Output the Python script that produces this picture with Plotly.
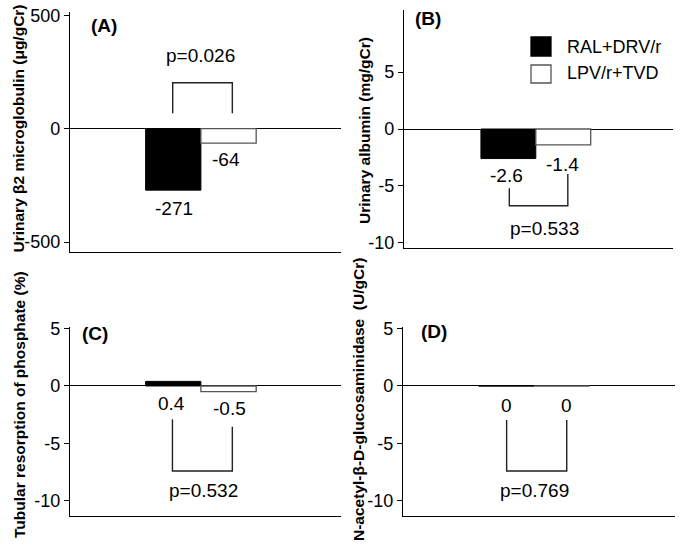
import plotly.graph_objects as go

# ---------------- data ----------------
groups = ["RAL+DRV/r", "LPV/r+TVD"]
panel_labels = ["(A)", "(B)", "(C)", "(D)"]
axis_titles = [
    "Urinary β2 microglobulin (μg/gCr)",
    "Urinary albumin (mg/gCr)",
    "Tubular resorption of phosphate (%)",
    "N-acetyl-β-D-glucosaminidase  (U/gCr)",
]
ral_values = [-271, -2.6, 0.4, 0]
lpv_values = [-64, -1.4, -0.5, 0]
value_labels_ral = ["-271", "-2.6", "0.4", "0"]
value_labels_lpv = ["-64", "-1.4", "-0.5", "0"]
p_values = ["p=0.026", "p=0.533", "p=0.532", "p=0.769"]
tick_vals = [[-500, 0, 500], [-10, -5, 0, 5], [-10, -5, 0, 5], [-10, -5, 0, 5]]
tick_text = [["-500", "0", "500"], ["-10", "-5", "0", "5"], ["-10", "-5", "0", "5"], ["-10", "-5", "0", "5"]]
y_ranges = [[-544, 515], [-10.47, 10.47], [-11.33, 5.14], [-11.33, 5.14]]
category = ["change"]

# ---------------- layout geometry (pixels) ----------------
W, H = 683, 547
def px(x):
    return x / W
def py(y):
    return 1 - y / H

domains = [  # (x0, x1, ytop, ybottom) in px
    (70, 341, 12, 252),
    (404, 673, 10, 248),
    (70, 341, 327, 516),
    (403, 675, 327, 516),
]
x_ranges = [[-0.483, 0.517], [-0.49, 0.51], [-0.483, 0.517], [-0.482, 0.518]]

# annotation positions in data units (x offset, y)
lab_ral_pos = [(-0.098, -350), (-0.110, -4.1), (-0.108, -1.51), (-0.101, -1.73)]
lab_lpv_pos = [(0.093, -138), (0.101, -3.1), (0.106, -2.0), (0.118, -1.73)]
p_pos = [(0.0, 323), (0.033, -8.77), (0.008, -9.07), (0.003, -9.07)]
# bracket: (xl, xr, y_left_end, y_right_end, y_bar)
brackets = [
    (-0.104, 0.116, 68, 68, 203),
    (-0.0985, 0.119, -5.22, -3.96, -6.75),
    (-0.105, 0.116, -2.9, -3.55, -7.41),
    (-0.101, 0.12, -2.96, -2.96, -7.41),
]
panel_label_px = [(104, 25), (428, 19), (95, 333), (434, 331)]
axis_title_px = [(17.5, 129), (364, 131), (19, 405), (358, 400)]

FONT = "Liberation Sans, Arial, sans-serif"

fig = go.Figure()
layout = dict(
    width=W, height=H, autosize=False,
    margin=dict(l=0, r=0, t=0, b=0),
    paper_bgcolor="white", plot_bgcolor="white",
    barmode="group", bargap=0.592, bargroupgap=0,
    showlegend=False,
    font=dict(family=FONT, size=18, color="black"),
)
annotations = []
shapes = []

for i in range(4):
    sfx = "" if i == 0 else str(i + 1)
    xa, ya = "x" + sfx, "y" + sfx
    x0, x1, yt, yb = domains[i]
    fig.add_trace(go.Bar(
        x=category, y=[ral_values[i]], name=groups[0],
        marker=dict(color="black", line=dict(color="black", width=1)),
        xaxis=xa, yaxis=ya, hoverinfo="y",
    ))
    fig.add_trace(go.Bar(
        x=category, y=[lpv_values[i]], name=groups[1],
        marker=dict(color="white", line=dict(color="#555555", width=1.3)),
        xaxis=xa, yaxis=ya, hoverinfo="y",
    ))
    layout["xaxis" + sfx] = dict(
        domain=[px(x0), px(x1)], anchor=ya, type="category",
        range=x_ranges[i], showticklabels=False, ticks="",
        showline=True, linecolor="black", linewidth=1.4,
        showgrid=False, zeroline=False, fixedrange=True,
    )
    layout["yaxis" + sfx] = dict(
        domain=[py(yb), py(yt)], anchor=xa, range=y_ranges[i],
        tickmode="array", tickvals=tick_vals[i], ticktext=tick_text[i],
        ticks="outside", ticklen=5, tickwidth=1.3,
        tickcolor="black", showline=True, linecolor="black", linewidth=1.4,
        showgrid=False, zeroline=True, zerolinecolor="black", zerolinewidth=1.4,
        tickfont=dict(size=18, family=FONT, color="black"), fixedrange=True,
        automargin=False,
    )
    # value labels
    for (xo, yv), txt in ((lab_ral_pos[i], value_labels_ral[i]), (lab_lpv_pos[i], value_labels_lpv[i])):
        annotations.append(dict(x=xo, y=yv, xref=xa, yref=ya, text=txt, showarrow=False,
                                xanchor="center", yanchor="middle",
                                font=dict(size=19, family=FONT, color="black")))
    # p value
    annotations.append(dict(x=p_pos[i][0], y=p_pos[i][1], xref=xa, yref=ya, text=p_values[i],
                            showarrow=False, xanchor="center", yanchor="middle",
                            font=dict(size=19, family=FONT, color="black")))
    # bracket
    xl, xr, yl, yr, ybar = brackets[i]
    shapes.append(dict(type="path", xref=xa, yref=ya,
                       path=f"M {xl} {yl} L {xl} {ybar} L {xr} {ybar} L {xr} {yr}",
                       line=dict(color="#222222", width=1.4)))
    # panel label
    lx, ly = panel_label_px[i]
    annotations.append(dict(x=px(lx), y=py(ly), xref="paper", yref="paper", text="<b>" + panel_labels[i] + "</b>",
                            showarrow=False, xanchor="center", yanchor="middle",
                            font=dict(size=19, family=FONT, color="black")))
    # axis title
    tx, ty = axis_title_px[i]
    annotations.append(dict(x=px(tx), y=py(ty), xref="paper", yref="paper",
                            text="<b>" + axis_titles[i] + "</b>", textangle=-90,
                            showarrow=False, xanchor="center", yanchor="middle",
                            font=dict(size=15.5, family=FONT, color="black")))

# legend (drawn manually in panel B)
legend_items = [("black", "black", 37, 56, 46.7), ("white", "#555555", 65, 83, 72.5)]
for (fill, edge, y0, y1, yc), name in zip(legend_items, groups):
    shapes.append(dict(type="rect", xref="paper", yref="paper",
                       x0=px(531), x1=px(551), y0=py(y1), y1=py(y0),
                       fillcolor=fill, line=dict(color=edge, width=1.3)))
    annotations.append(dict(x=px(565), y=py(yc), xref="paper", yref="paper", text=name,
                            showarrow=False, xanchor="left", yanchor="middle",
                            font=dict(size=18, family=FONT, color="black")))

layout["annotations"] = annotations
layout["shapes"] = shapes
fig.update_layout(**layout)
fig.write_html("out.html", config={"displayModeBar": False},
               post_script="document.body.style.margin='0';document.body.style.padding='0';")
